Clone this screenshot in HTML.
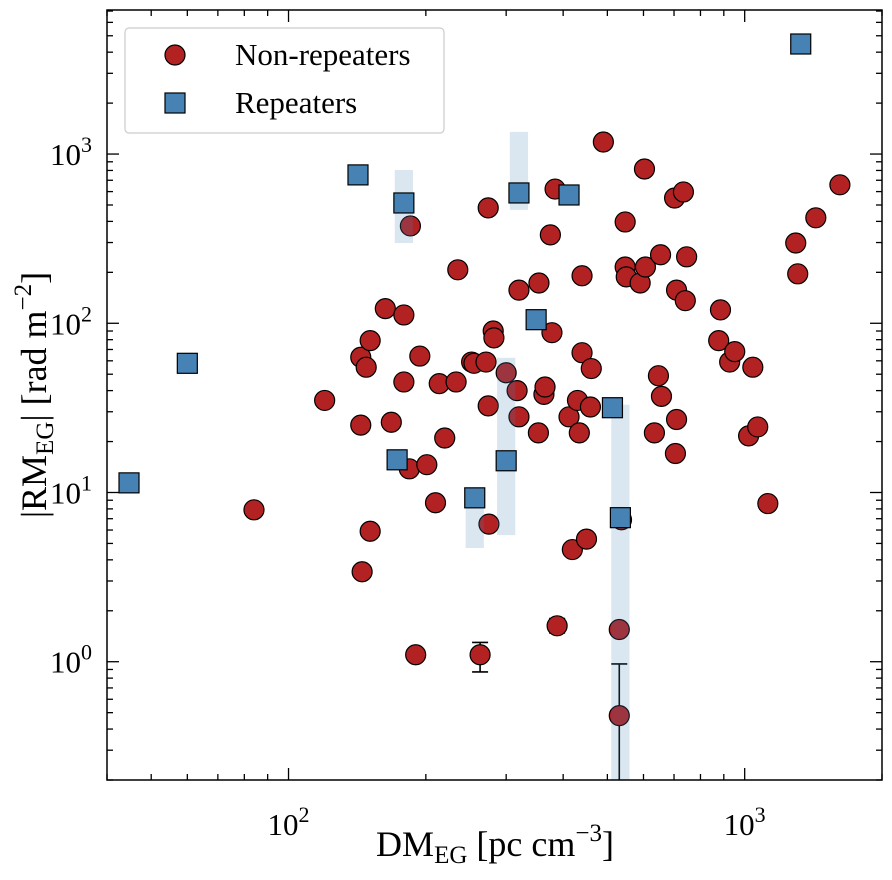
<!DOCTYPE html>
<html><head><meta charset="utf-8"><style>
html,body{margin:0;padding:0;background:#fff}
svg text{font-family:"Liberation Serif","DejaVu Serif",serif;fill:#000}
</style></head><body>
<svg id="chart" xmlns="http://www.w3.org/2000/svg" width="892" height="875" viewBox="0 0 892 875"></svg>
<script>
// ---- data ----
const nrDM = [84,120,144,144,145,148,151,151,163,168,179,179,184,185,190,194,201,210,214,220,235,233,252,255,271,274,274,275,263,281,282,300,317,320,320,354,353,363,365,375,384,378,388,412,419,430,434,440,440,450,459,461,490,531,531,547,547,550,590,603,606,634,647,657,654,702,709,709,705,734,741,746,877,885,927,951,1020,1042,1068,1124,1294,1307,1432,1617,537];
const nrRM = [7.9,35,63,25,3.4,55,79,5.9,122,26,45,112,13.8,376,1.1,64,14.6,8.7,44,21,207,45,59,58,59,481,32.5,6.5,1.1,90,82,51,40,28,157,173,22.5,38,42,333,621,88,1.63,28,4.6,35,22.5,191,67,5.3,32,54,1178,1.55,0.48,397,215,188,173,816,215,22.5,49,37,254,550,157,27,17,597,136,247,79,120,59,68,21.6,55,24.4,8.6,298,196,420,658,6.9];
const errDM = [263,388,531];
const errLo = [0.87,1.48,0.05];
const errHi = [1.3,1.8,0.97];
const rpDM = [44.7,60,142,179,173,256,300,320,349,412,513,534,1327];
const rpRM = [11.4,58,753,514,15.6,9.3,15.4,589,105,573,31.7,7.1,4470];
const bandDM = [179,320,256,300,534];
const bandLo = [298,468,4.7,5.6,0.05];
const bandHi = [805,1352,9.3,62.5,33];
const xTickVals = [100,1000];
const yTickVals = [1,10,100,1000];

const L=107,R=882,T=10,B=780;
const xmin=Math.log10(40),xmax=Math.log10(2000),ymin=Math.log10(0.2),ymax=Math.log10(7100);
const X=v=>L+(Math.log10(v)-xmin)/(xmax-xmin)*(R-L);
const Y=v=>B-(Math.log10(v)-ymin)/(ymax-ymin)*(B-T);
const NS="http://www.w3.org/2000/svg";
const svg=document.getElementById('chart');
function mk(tag,attrs,parent){const e=document.createElementNS(NS,tag);for(const k in attrs)e.setAttribute(k,attrs[k]);(parent||svg).appendChild(e);return e;}

const clip=mk('clipPath',{id:'pc'});mk('rect',{x:L,y:T,width:R-L,height:B-T},clip);
const plot=mk('g',{'clip-path':'url(#pc)'});



errDM.forEach((d,i)=>{
  const g=mk('g',{},plot);
  
  
  const x=X(d);
  mk('line',{x1:x,x2:x,y1:Y(errLo[i]),y2:Y(errHi[i]),stroke:'#000','stroke-width':1.6},g);
  mk('line',{x1:x-8,x2:x+8,y1:Y(errHi[i]),y2:Y(errHi[i]),stroke:'#000','stroke-width':1.6},g);
  mk('line',{x1:x-8,x2:x+8,y1:Y(errLo[i]),y2:Y(errLo[i]),stroke:'#000','stroke-width':1.6},g);
});
nrDM.forEach((d,i)=>{
  const c=mk('circle',{cx:X(d),cy:Y(nrRM[i]),r:10,fill:'#b22222',stroke:'#000','stroke-width':1.2},plot);
  
  
});
bandDM.forEach((d,i)=>{
  const x1=X(d/Math.pow(10,0.02)),x2=X(d*Math.pow(10,0.02));
  const r=mk('rect',{x:x1,y:Y(bandHi[i]),width:x2-x1,height:Y(bandLo[i])-Y(bandHi[i]),fill:'#4682b4','fill-opacity':0.2},plot);
  
  
});
rpDM.forEach((d,i)=>{
  const s=mk('rect',{x:X(d)-10,y:Y(rpRM[i])-10,width:20,height:20,fill:'#4682b4',stroke:'#000','stroke-width':1.2},plot);
  
  
});

const frame=mk('rect',{x:L,y:T,width:R-L,height:B-T,fill:'none',stroke:'#000','stroke-width':1.5});



const tg=mk('g',{stroke:'#000','stroke-width':1.3});


for(let e=1;e<=3;e++)for(let m=1;m<10;m++){const v=m*Math.pow(10,e);if(v<40||v>2000)continue;const x=X(v),len=m===1?12:6;
  mk('line',{x1:x,x2:x,y1:B,y2:B-len},tg);mk('line',{x1:x,x2:x,y1:T,y2:T+len},tg);}
for(let e=-1;e<=3;e++)for(let m=1;m<10;m++){const v=m*Math.pow(10,e);if(v<0.2||v>7100)continue;const y=Y(v),len=m===1?12:6;
  mk('line',{x1:L,x2:L+len,y1:y,y2:y},tg);mk('line',{x1:R,x2:R-len,y1:y,y2:y},tg);}

xTickVals.forEach(v=>{
  const t=mk('text',{x:X(v),y:835,'font-size':31,'text-anchor':'middle'});
  
  
  t.innerHTML='10<tspan dy="-13" font-size="22">'+Math.round(Math.log10(v))+'</tspan>';
});
yTickVals.forEach(v=>{
  const t=mk('text',{x:92,y:Y(v)+11,'font-size':31,'text-anchor':'end'});
  
  
  t.innerHTML='10<tspan dy="-13" font-size="22">'+Math.round(Math.log10(v))+'</tspan>';
});

const xt=mk('text',{x:495,y:856,'font-size':36,'text-anchor':'middle'});


xt.innerHTML='DM<tspan dy="7" font-size="25">EG</tspan><tspan dy="-7"> [pc cm</tspan><tspan dy="-15" font-size="25">−3</tspan><tspan dy="15">]</tspan>';
const yt=mk('text',{x:0,y:0,'font-size':36,'text-anchor':'middle',transform:'translate(46,395) rotate(-90)'});


yt.innerHTML='|RM<tspan dy="7" font-size="25">EG</tspan><tspan dy="-7">| [rad m</tspan><tspan dy="-15" font-size="25">−2</tspan><tspan dy="15">]</tspan>';

const lg=mk('g',{});


mk('rect',{x:125,y:28,width:319,height:105,rx:4,fill:'#fff',stroke:'#ccc','stroke-width':1.2},lg);
const le1=mk('g',{},lg);


mk('circle',{cx:175,cy:55,r:10,fill:'#b22222',stroke:'#000','stroke-width':1.2},le1);
const t1=mk('text',{x:235,y:65,'font-size':31},le1);t1.textContent='Non-repeaters';
const le2=mk('g',{},lg);


mk('rect',{x:165,y:93,width:20,height:20,fill:'#4682b4',stroke:'#000','stroke-width':1.2},le2);
const t2=mk('text',{x:235,y:113,'font-size':31},le2);t2.textContent='Repeaters';
</script>
</body></html>
